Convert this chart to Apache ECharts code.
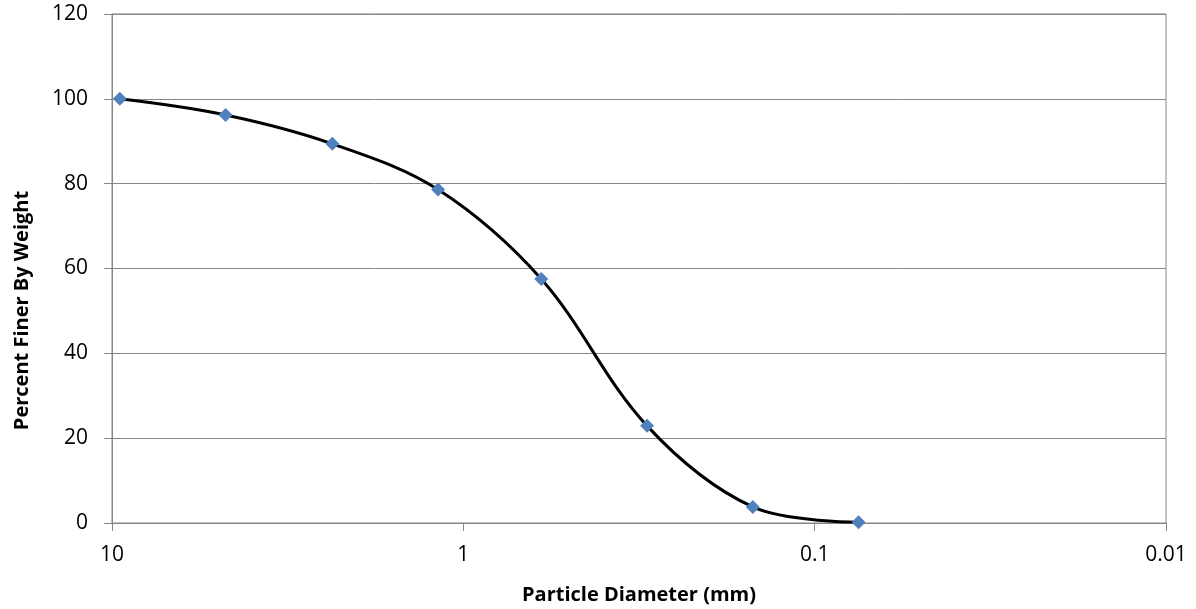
<!DOCTYPE html>
<html>
<head>
<meta charset="utf-8">
<script src="https://cdn.jsdelivr.net/npm/echarts@6/dist/echarts.min.js"></script>
<style>
html,body{margin:0;padding:0;background:#fff;}
#chart{width:1196px;height:609px;}
</style>
</head>
<body>
<div id="chart"></div>
<script>
// Sieve opening sizes (mm) and percent finer by weight
const diameters = [9.5, 4.75, 2.36, 1.18, 0.6, 0.3, 0.15, 0.075];
const percentFiner = [100, 96.2, 89.4, 78.6, 57.5, 22.9, 3.8, 0.2];
const xTicks = [10, 1, 0.1, 0.01];
const yTicks = [0, 20, 40, 60, 80, 100, 120];

const points = diameters.map((d, i) => [d, percentFiner[i]]);
const fontFam = '"Open Sans", "Noto Sans", sans-serif';

const chart = echarts.init(document.getElementById('chart'), null, {renderer: 'canvas'});
chart.setOption({
  animation: false,
  backgroundColor: '#ffffff',
  grid: {
    left: 112, right: 30, top: 14, bottom: 86,
    outerBoundsMode: 'none',
    containLabel: false,
    show: true, borderColor: '#868686', borderWidth: 1
  },
  xAxis: {
    type: 'log',
    logBase: 10,
    min: 0.01,
    max: 10,
    inverse: true,
    name: 'Particle Diameter (mm)',
    nameLocation: 'middle',
    nameGap: 62,
    nameTextStyle: {fontFamily: fontFam, fontSize: 20, fontWeight: 'bold', color: '#000'},
    axisLine: {lineStyle: {color: '#868686', width: 1}},
    axisTick: {show: true, length: 8, inside: false, lineStyle: {color: '#868686'}},
    minorTick: {show: false},
    splitLine: {show: false},
    axisLabel: {
      fontFamily: fontFam, fontSize: 21, color: '#000', margin: 22,
      formatter: v => {
        const t = xTicks.find(x => Math.abs(x - v) / x < 1e-6);
        return t !== undefined ? String(t) : '';
      }
    }
  },
  yAxis: {
    type: 'value',
    min: 0,
    max: 120,
    interval: 20,
    name: 'Percent Finer By Weight',
    nameLocation: 'middle',
    nameGap: 80,
    nameTextStyle: {fontFamily: fontFam, fontSize: 20, fontWeight: 'bold', color: '#000', padding: [0, 84, 0, 0]},
    axisLine: {show: true, lineStyle: {color: '#868686', width: 1}},
    axisTick: {show: true, length: 8, inside: false, lineStyle: {color: '#868686'}},
    splitLine: {show: true, lineStyle: {color: '#868686', width: 1}},
    axisLabel: {
      fontFamily: fontFam, fontSize: 21, color: '#000', margin: 24,
      formatter: v => yTicks.includes(v) ? String(v) : ''
    }
  },
  series: [{
    type: 'line',
    data: points,
    smooth: 0.35,
    symbol: 'diamond',
    symbolSize: 14,
    showAllSymbol: true,
    lineStyle: {color: '#000000', width: 3},
    itemStyle: {color: '#4F81BD', borderWidth: 0},
    z: 3
  }]
});
</script>
</body>
</html>
